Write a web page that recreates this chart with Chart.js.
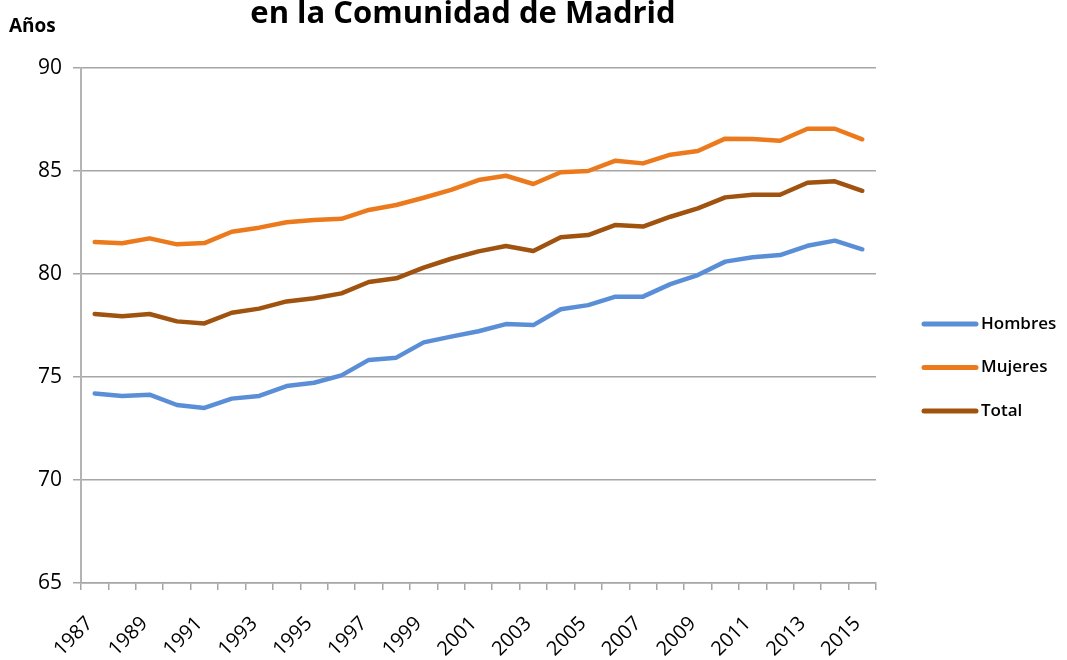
<!DOCTYPE html>
<html>
<head>
<meta charset="utf-8">
<script src="https://cdn.jsdelivr.net/npm/chart.js@4"></script>
<style>
  html, body { margin: 0; padding: 0; background: #fff; }
  #wrap { width: 1067px; height: 660px; position: relative; }
</style>
</head>
<body>
<div id="wrap"><canvas id="lifeChart"></canvas></div>
<script>
const years = ['1987','1988','1989','1990','1991','1992','1993','1994','1995','1996','1997','1998','1999','2000',
    '2001','2002','2003','2004','2005','2006','2007','2008','2009','2010','2011','2012','2013','2014','2015'];

const hombres = [74.2, 74.08, 74.14, 73.64, 73.5, 73.95, 74.08, 74.56, 74.72, 75.08, 75.83, 75.94, 76.68, 76.96,
    77.22, 77.57, 77.52, 78.29, 78.49, 78.9, 78.9, 79.51, 79.95, 80.6, 80.81, 80.92, 81.37, 81.62, 81.2];
const mujeres = [81.55, 81.49, 81.73, 81.44, 81.5, 82.05, 82.25, 82.51, 82.62, 82.68, 83.11, 83.35, 83.7, 84.08,
    84.56, 84.77, 84.37, 84.94, 85.0, 85.5, 85.37, 85.79, 85.97, 86.57, 86.55, 86.47, 87.05, 87.05, 86.54];
const total = [78.06, 77.95, 78.06, 77.7, 77.6, 78.12, 78.32, 78.67, 78.82, 79.06, 79.61, 79.79, 80.31, 80.74,
    81.1, 81.36, 81.12, 81.78, 81.89, 82.38, 82.3, 82.78, 83.19, 83.72, 83.85, 83.85, 84.43, 84.5, 84.04];

const yTicks = [65, 70, 75, 80, 85, 90];

const titleText = 'en la Comunidad de Madrid';
const axisTitle = 'Años';

// title, axis label and legend drawn at fixed spots like the excel original
const extrasPlugin = {
    id: 'extras',
    afterDraw(chart) {
        const c = chart.ctx;
        c.save();
        c.fillStyle = '#000';
        c.textBaseline = 'alphabetic';
        c.textAlign = 'center';
        c.font = 'bold 31px "Open Sans", sans-serif';
        c.fillText(titleText, 463, 23);
        c.textAlign = 'left';
        c.font = 'bold 19px "Open Sans", sans-serif';
        c.fillText(axisTitle, 9, 32);

        // legend
        c.font = '600 17px "Open Sans", sans-serif';
        c.textBaseline = 'middle';
        chart.data.datasets.forEach((ds, i) => {
            const y = 324 + i * 43.5;
            c.strokeStyle = ds.borderColor;
            c.lineWidth = 5;
            c.lineCap = 'round';
            c.beginPath();
            c.moveTo(924, y);
            c.lineTo(976, y);
            c.stroke();
            c.fillText(ds.label, 981, y);
        });
        c.restore();
    }
};

const ctx = document.getElementById('lifeChart').getContext('2d');

const chart = new Chart(ctx, {
    type: 'line',
    data: {
        labels: years,
        datasets: [
            { label: 'Hombres', data: hombres, borderColor: '#5A8FD8' },
            { label: 'Mujeres', data: mujeres, borderColor: '#EC7A1C' },
            { label: 'Total', data: total, borderColor: '#A0520F' }
        ]
    },
    options: {
        responsive: true,
        maintainAspectRatio: false,
        animation: false,
        layout: {
            padding: { top: 68, right: 191, left: 0, bottom: 0 }
        },
        elements: {
            line: { borderWidth: 4.5, tension: 0, borderCapStyle: 'round', borderJoinStyle: 'round' },
            point: { radius: 0, hoverRadius: 0 }
        },
        scales: {
            y: {
                min: 65,
                max: 90,
                afterFit(scale) { scale.width = 81; },
                afterBuildTicks(scale) { scale.ticks = yTicks.map(v => ({ value: v })); },
                grid: {
                    color: '#a6a6a6',
                    lineWidth: 1.5,
                    tickLength: 8,
                    tickColor: '#a6a6a6'
                },
                border: { display: true, color: '#b4b4b4', width: 2 },
                ticks: {
                    color: '#000',
                    padding: 11,
                    font: { family: '"Liberation Sans Narrow", "Open Sans", sans-serif', size: 21 }
                }
            },
            x: {
                offset: true,
                afterFit(scale) { scale.height = 77; },
                grid: {
                    offset: true,
                    drawOnChartArea: false,
                    tickLength: 7,
                    color: '#a6a6a6',
                    lineWidth: 1.5
                },
                border: { display: true, color: '#a6a6a6', width: 1.5 },
                ticks: {
                    color: '#000',
                    autoSkip: false,
                    maxRotation: 45,
                    minRotation: 45,
                    padding: 22,
                    labelOffset: -5,
                    font: { family: '"Open Sans", sans-serif', size: 20 },
                    callback: function (value, index) {
                        return index % 2 === 0 ? this.getLabelForValue(value) : '';
                    }
                }
            }
        },
        plugins: {
            legend: { display: false },
            title: { display: false },
            tooltip: { enabled: false }
        }
    },
    plugins: [extrasPlugin]
});
</script>
</body>
</html>
